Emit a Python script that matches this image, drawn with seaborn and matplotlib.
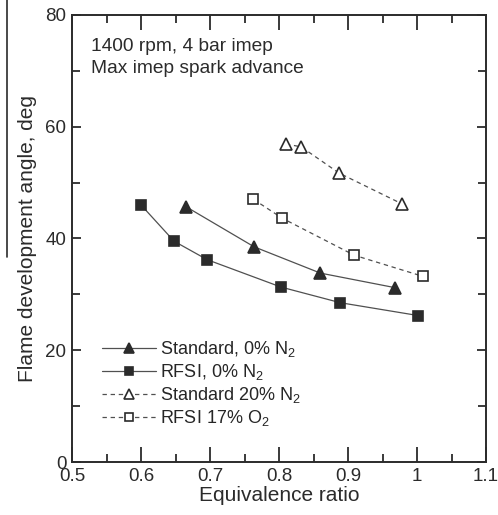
import matplotlib
matplotlib.use("Agg")
import matplotlib.pyplot as plt
from matplotlib.lines import Line2D
from matplotlib.ticker import MultipleLocator
import seaborn as sns
import pandas as pd

# ── data ─────────────────────────────────────────────────────────────────────
std0_phi = [0.665, 0.764, 0.860, 0.968]
std0_ang = [45.7, 38.5, 33.8, 31.2]

rfsi0_phi = [0.600, 0.648, 0.696, 0.803, 0.889, 1.002]
rfsi0_ang = [46.0, 39.5, 36.2, 31.3, 28.5, 26.2]

std20_phi = [0.810, 0.832, 0.887, 0.978]
std20_ang = [56.9, 56.4, 51.7, 46.2]

rfsi17_phi = [0.763, 0.805, 0.909, 1.009]
rfsi17_ang = [47.0, 43.6, 37.0, 33.2]

labels = ["Standard, 0% N$_2$", "RFSI, 0% N$_2$",
          "Standard 20% N$_2$", "RFSI 17% O$_2$"]

# ── style ─────────────────────────────────────────────────────────────────────
sns.set_theme(style="ticks")
plt.rcParams["font.family"] = ["Liberation Sans", "DejaVu Sans"]
plt.rcParams["mathtext.default"] = "regular"
INK = "#2b2b2b"
LINE = "#505050"

fig = plt.figure(figsize=(4.98, 5.15), dpi=100)
ax = fig.add_axes([0.1446, 0.1029, 0.8314, 0.8681])

series = [
    (std0_phi, std0_ang, "^", INK, "-", 9),
    (rfsi0_phi, rfsi0_ang, "s", INK, "-", 7.5),
    (std20_phi, std20_ang, "^", "white", (0, (3.5, 3)), 9),
    (rfsi17_phi, rfsi17_ang, "s", "white", (0, (3.5, 3)), 7.5),
]
for (phi, ang, mk, face, ls, ms), lab in zip(series, labels):
    df = pd.DataFrame({"phi": phi, "angle": ang})
    sns.lineplot(data=df, x="phi", y="angle", ax=ax, color=LINE, lw=0.9,
                 linestyle=ls, marker=mk, markersize=ms,
                 markerfacecolor=face, markeredgecolor=INK,
                 markeredgewidth=1.2, label=lab)

ax.set_xlim(0.5, 1.1)
ax.set_ylim(0, 80)
ax.xaxis.set_major_locator(MultipleLocator(0.1))
ax.xaxis.set_minor_locator(MultipleLocator(0.05))
ax.yaxis.set_major_locator(MultipleLocator(20))
ax.yaxis.set_minor_locator(MultipleLocator(10))
ax.set_xticks([0.5, 0.6, 0.7, 0.8, 0.9, 1.0, 1.1])
ax.set_xticklabels(["0.5", "0.6", "0.7", "0.8", "0.9", "1", "1.1"])

ax.tick_params(which="both", direction="in", top=True, right=True,
               color=INK, width=1.3, labelsize=13.5, labelcolor=INK, pad=4)
ax.tick_params(axis="x", which="major", length=10.5)
ax.tick_params(axis="x", which="minor", length=5.5)
ax.tick_params(axis="y", which="major", length=6.5, pad=4)
ax.tick_params(axis="y", which="minor", length=6)
for sp in ax.spines.values():
    sp.set_color(INK)
    sp.set_linewidth(1.4)

ax.set_xlabel("Equivalence ratio", fontsize=15, color=INK, labelpad=1)
ax.set_ylabel("Flame development angle, deg", fontsize=15, color=INK,
              labelpad=6)

ax.text(0.045, 0.948, "1400 rpm, 4 bar imep\nMax imep spark advance",
        transform=ax.transAxes, ha="left", va="top", fontsize=13.8,
        color=INK, linespacing=1.38)

ax.legend(loc="lower left", bbox_to_anchor=(0.055, 0.06), frameon=False,
          fontsize=13, handlelength=3.0, handletextpad=0.2,
          labelspacing=0.16, borderaxespad=0, markerscale=0.85)

# cropped rule from a neighbouring figure along the left edge
fig.add_artist(Line2D([7 / 498, 7 / 498], [1.0, 1 - 257 / 515],
                      transform=fig.transFigure, color=INK, lw=1.2))

fig.savefig("out.png", dpi=100, facecolor="white")
